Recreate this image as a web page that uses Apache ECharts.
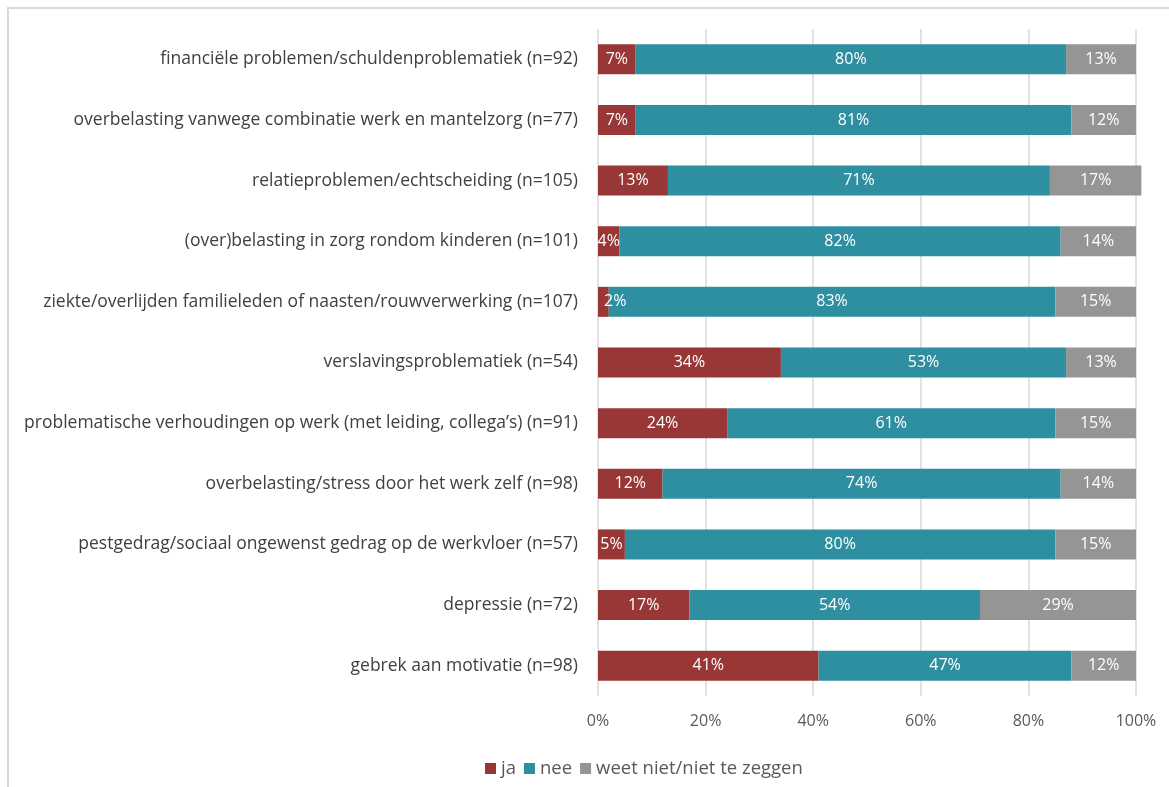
<!DOCTYPE html>
<html><head><meta charset="utf-8">
<script src="https://cdn.jsdelivr.net/npm/echarts@6/dist/echarts.min.js"></script>
<style>html,body{margin:0;padding:0;background:#fff}#c{width:1169px;height:787px}</style>
</head><body><div id="c"></div>
<script>
const categories = [
  "financiële problemen/schuldenproblematiek (n=92)",
  "overbelasting vanwege combinatie werk en mantelzorg (n=77)",
  "relatieproblemen/echtscheiding (n=105)",
  "(over)belasting in zorg rondom kinderen (n=101)",
  "ziekte/overlijden familieleden of naasten/rouwverwerking (n=107)",
  "verslavingsproblematiek (n=54)",
  "problematische verhoudingen op werk (met leiding, collega’s) (n=91)",
  "overbelasting/stress door het werk zelf (n=98)",
  "pestgedrag/sociaal ongewenst gedrag op de werkvloer (n=57)",
  "depressie (n=72)",
  "gebrek aan motivatie (n=98)"
];
const ja = [7, 7, 13, 4, 2, 34, 24, 12, 5, 17, 41];
const nee = [80, 81, 71, 82, 83, 53, 61, 74, 80, 54, 47];
const weetNiet = [13, 12, 17, 14, 15, 13, 15, 14, 15, 29, 12];
const seriesNames = ["ja", "nee", "weet niet/niet te zeggen"];
const colors = ["#983735", "#2E8FA0", "#959595"];

const FONT = "Open Sans, sans-serif";
const chart = echarts.init(document.getElementById('c'), null, {renderer: 'canvas'});
const mk = (name, data, color) => ({
  name, type: 'bar', stack: 'total', clip: false,
  data: data.map(v => v < 3 ? {value: v, label: {position: 'insideLeft', distance: 6}} : v),
  barWidth: 30,
  itemStyle: {color},
  label: {show: true, position: 'inside', color: '#fff', fontSize: 16, fontFamily: FONT, formatter: '{c}%'}
});
chart.setOption({
  animation: false,
  textStyle: {fontFamily: FONT},
  graphic: [{type: 'rect', shape: {x: 8, y: 8, width: 1300, height: 900},
    style: {fill: 'none', stroke: '#d9d9d9', lineWidth: 2}, silent: true}],
  grid: {left: 598, right: 33, top: 29, bottom: 91, containLabel: false},
  legend: {
    data: seriesNames, bottom: 4, left: 480, itemWidth: 11, itemHeight: 11, itemGap: 8,
    icon: 'rect', textStyle: {color: '#595959', fontSize: 18.5, fontFamily: FONT}
  },
  xAxis: {
    type: 'value', min: 0, max: 100, interval: 20,
    axisLabel: {formatter: '{value}%', color: '#595959', fontSize: 16, margin: 17, fontFamily: FONT},
    splitLine: {lineStyle: {color: '#d9d9d9', width: 1.5}},
    axisLine: {show: false}, axisTick: {show: false}
  },
  yAxis: {
    type: 'category', data: categories, inverse: true,
    axisLine: {show: false}, axisTick: {show: false},
    axisLabel: {color: '#404040', fontSize: 17.5, margin: 20, fontFamily: FONT}
  },
  series: [mk(seriesNames[0], ja, colors[0]), mk(seriesNames[1], nee, colors[1]), mk(seriesNames[2], weetNiet, colors[2])]
});
</script></body></html>
